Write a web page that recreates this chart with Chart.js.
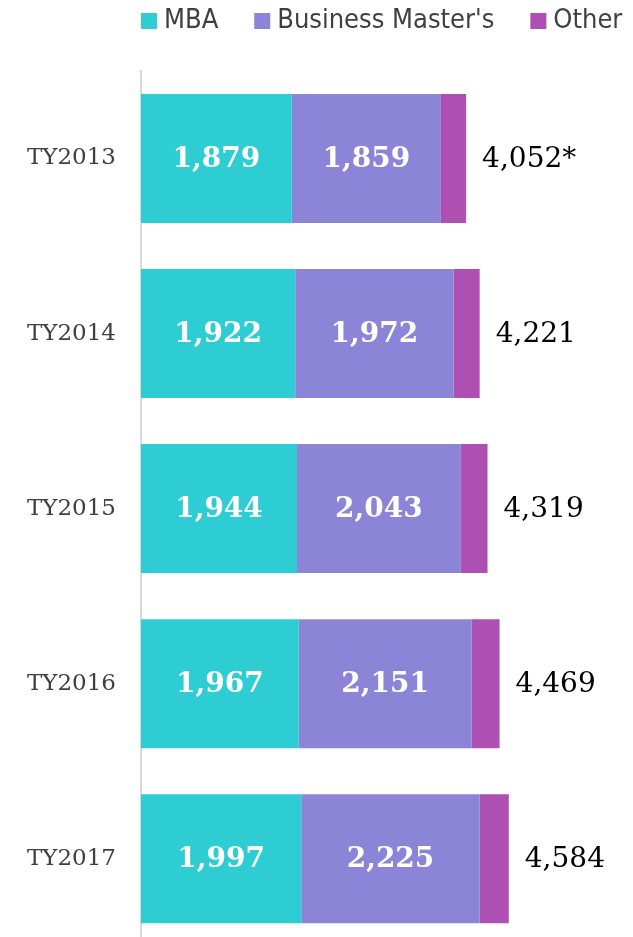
<!DOCTYPE html>
<html>
<head>
<meta charset="utf-8">
<script src="https://cdn.jsdelivr.net/npm/chart.js@4.4.0/dist/chart.umd.min.js"></script>
<style>
    html, body { margin: 0; padding: 0; background: #ffffff; overflow: hidden; }
    #chartWrap { width: 633px; height: 985px; }
</style>
</head>
<body>
<div id="chartWrap"><canvas id="enrollmentChart" width="633" height="985"></canvas></div>
<script>
// data
const years = ["TY2013", "TY2014", "TY2015", "TY2016", "TY2017"];
const mbaValues = [1879, 1922, 1944, 1967, 1997];
const mastersValues = [1859, 1972, 2043, 2151, 2225];
const otherValues = [314, 327, 332, 351, 362];
const totalValues = [4052, 4221, 4319, 4469, 4584];
const totalNotes = ["*", "", "", "", ""];

const seriesNames = ["MBA", "Business Master's", "Other"];
const seriesColors = ["#2ecdd3", "#8c84d6", "#ae4fb2"];

const serif = '"DejaVu Serif", Georgia, serif';
const sans = '"DejaVu Sans Condensed", "DejaVu Sans", Tahoma, sans-serif';

function formatNumber(n) {
    return new Intl.NumberFormat("en-US").format(n);
}

// legend across the top, starting at the axis line
const topLegend = {
    id: "topLegend",
    afterDraw(chart) {
        const ctx = chart.ctx;
        let x = chart.chartArea.left;
        ctx.save();
        ctx.font = "27px " + sans;
        ctx.textBaseline = "middle";
        ctx.textAlign = "left";
        chart.data.datasets.forEach(function (ds) {
            ctx.fillStyle = ds.backgroundColor;
            ctx.fillRect(x, 13, 16, 16);
            ctx.fillStyle = "#404040";
            ctx.fillText(ds.label, x + 23, 21);
            x += 23 + ctx.measureText(ds.label).width + 36;
        });
        ctx.restore();
    },
};

// white numbers in the first two segments, totals past the bar end
const barLabels = {
    id: "barLabels",
    afterDatasetsDraw(chart) {
        const ctx = chart.ctx;
        ctx.save();
        ctx.textBaseline = "middle";

        ctx.font = "bold 28px " + serif;
        ctx.fillStyle = "#ffffff";
        ctx.textAlign = "center";
        [0, 1].forEach(function (di) {
            const values = chart.data.datasets[di].data;
            chart.getDatasetMeta(di).data.forEach(function (bar, i) {
                const c = bar.getCenterPoint();
                ctx.fillText(formatNumber(values[i]), c.x, c.y + 1);
            });
        });

        ctx.font = "28px " + serif;
        ctx.fillStyle = "#000000";
        ctx.textAlign = "left";
        const last = chart.data.datasets.length - 1;
        chart.getDatasetMeta(last).data.forEach(function (bar, i) {
            ctx.fillText(formatNumber(totalValues[i]) + totalNotes[i], bar.x + 16, bar.y + 1);
        });
        ctx.restore();
    },
};

function makeDataset(i, values) {
    return {
        label: seriesNames[i],
        data: values,
        backgroundColor: seriesColors[i],
        borderWidth: 0,
        categoryPercentage: 1,
        barPercentage: 0.737,
    };
}

const ctx = document.getElementById("enrollmentChart").getContext("2d");
new Chart(ctx, {
    type: "bar",
    data: {
        labels: years,
        datasets: [
            makeDataset(0, mbaValues),
            makeDataset(1, mastersValues),
            makeDataset(2, otherValues),
        ],
    },
    options: {
        indexAxis: "y",
        responsive: false,
        animation: false,
        layout: {
            padding: { top: 71, right: 13, bottom: 4, left: 0 },
        },
        plugins: {
            legend: { display: false },
            tooltip: { enabled: false },
        },
        scales: {
            x: {
                stacked: true,
                display: false,
                min: 0,
                max: 5970,
            },
            y: {
                stacked: true,
                afterFit: function (scale) {
                    scale.width = 141;
                },
                grid: { display: false, drawTicks: false },
                border: { display: true, color: "#d9d9d9", width: 2 },
                ticks: {
                    padding: 25,
                    color: "#404040",
                    font: { family: serif, size: 23 },
                },
            },
        },
    },
    plugins: [topLegend, barLabels],
});
</script>
</body>
</html>
